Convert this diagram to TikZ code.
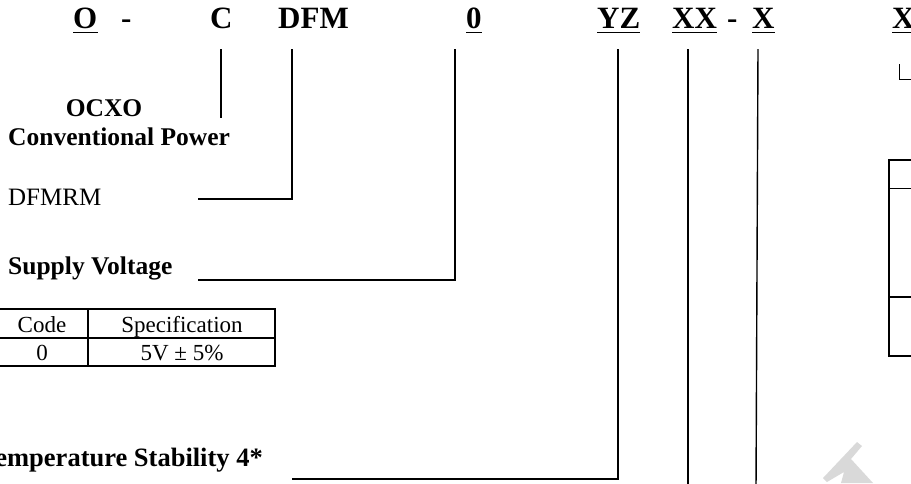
\documentclass[tikz,border=0pt]{standalone}
\usepackage{fontspec}
\setmainfont{Liberation Serif}
\tikzset{
  codetext/.style={font=\fontsize{31}{31}\selectfont\bfseries, inner sep=0pt, anchor=base west},
  head/.style={font=\fontsize{25.5}{26}\selectfont\bfseries, inner sep=0pt, anchor=base west},
  plaintext/.style={font=\fontsize{25}{26}\selectfont, inner sep=0pt, anchor=base west},
  cell/.style={font=\fontsize{23}{24}\selectfont, inner sep=0pt, anchor=base},
  lead/.style={line width=1.4pt},
  ul/.style={line width=1.8pt},
  grid/.style={line width=1.5pt},
  thick rule/.style={line width=2.3pt},
  thin rule/.style={line width=0.9pt},
}
\begin{document}
\begin{tikzpicture}[x=1pt,y=-1pt]
\useasboundingbox (0,0) rectangle (911,483);

% part number fields
\node[codetext] (o)    at (73,28)  {O};
\node[codetext] (d1)   at (121,28) {-};
\node[codetext] (c)    at (210,28) {C};
\node[codetext] (dfm)  at (278,28) {DFM};
\node[codetext] (zero) at (466,28) {0};
\node[codetext] (yz)   at (597,28) {YZ};
\node[codetext] (xx)   at (672,28) {XX};
\node[codetext] (d2)   at (727,28) {-};
\node[codetext] (xa)   at (752,28) {X};
\node[codetext] (xb)   at (892,28) {X};
\foreach \n in {o,zero,yz,xx,xa,xb}
  \draw[ul] ([yshift=-4.5pt]\n.base west) -- ([yshift=-4.5pt]\n.base east);

% field descriptions
\node[head, anchor=base] (ocxo) at (104,116) {OCXO};
\node[head] (conv)   at (8,145) {Conventional Power};
\node[plaintext] (dfmrm) at (8,205) {DFMRM};
\node[head] (supply) at (8,274) {Supply Voltage};
\node[head, font=\fontsize{26.5}{27}\selectfont\bfseries, anchor=base east] (temp)
  at (263,466) {Temperature Stability 4*};

% leader lines
\coordinate (t-c)    at (221,49);  \coordinate (e-c)    at (221,118);
\coordinate (t-dfm)  at (292,49);  \coordinate (e-dfm)  at (198,199);
\coordinate (t-zero) at (455,49);  \coordinate (e-zero) at (198,280);
\coordinate (t-yz)   at (618,49);  \coordinate (e-yz)   at (292,479);
\coordinate (t-xx)   at (688,49);  \coordinate (e-xx)   at (688,490);
\coordinate (t-xa)   at (758,49);  \coordinate (e-xa)   at (756,490);
\coordinate (t-xb)   at (899,64);  \coordinate (e-xb)   at (920,79);
\draw[lead] (t-c) -- (e-c);
\draw[lead] (t-dfm) |- (e-dfm);
\draw[lead] (t-zero) |- (e-zero);
\draw[lead] (t-yz) |- (e-yz);
\draw[lead] (t-xx) -- (e-xx);
\draw[lead] (t-xa) -- (e-xa);
\draw[thin rule] (t-xb) |- (e-xb);

% supply voltage table
\draw[grid] (-5,309) rectangle (275,366);
\draw[grid] (-5,338) -- (275,338);
\draw[grid] (88,309) -- (88,366);
\node[cell] (h1) at (42,332)  {Code};
\node[cell] (h2) at (182,332) {Specification};
\node[cell] (r1) at (42,360)  {0};
\node[cell] (r2) at (182,360) {5V ± 5\%};

% table on the right edge
\draw[thick rule] (925,160) -| (889,356) -- (925,356);
\draw[thin rule] (889,188) -- (925,188);
\draw[thick rule] (889,297) -- (925,297);

% faint mark at the lower right
\fill[gray!30] (823,478) -- (857,442) -- (862,446) -- (851,459) -- (873,483)
  -- (841,483) -- (844,472) -- (827,482) -- cycle;
\end{tikzpicture}
\end{document}
